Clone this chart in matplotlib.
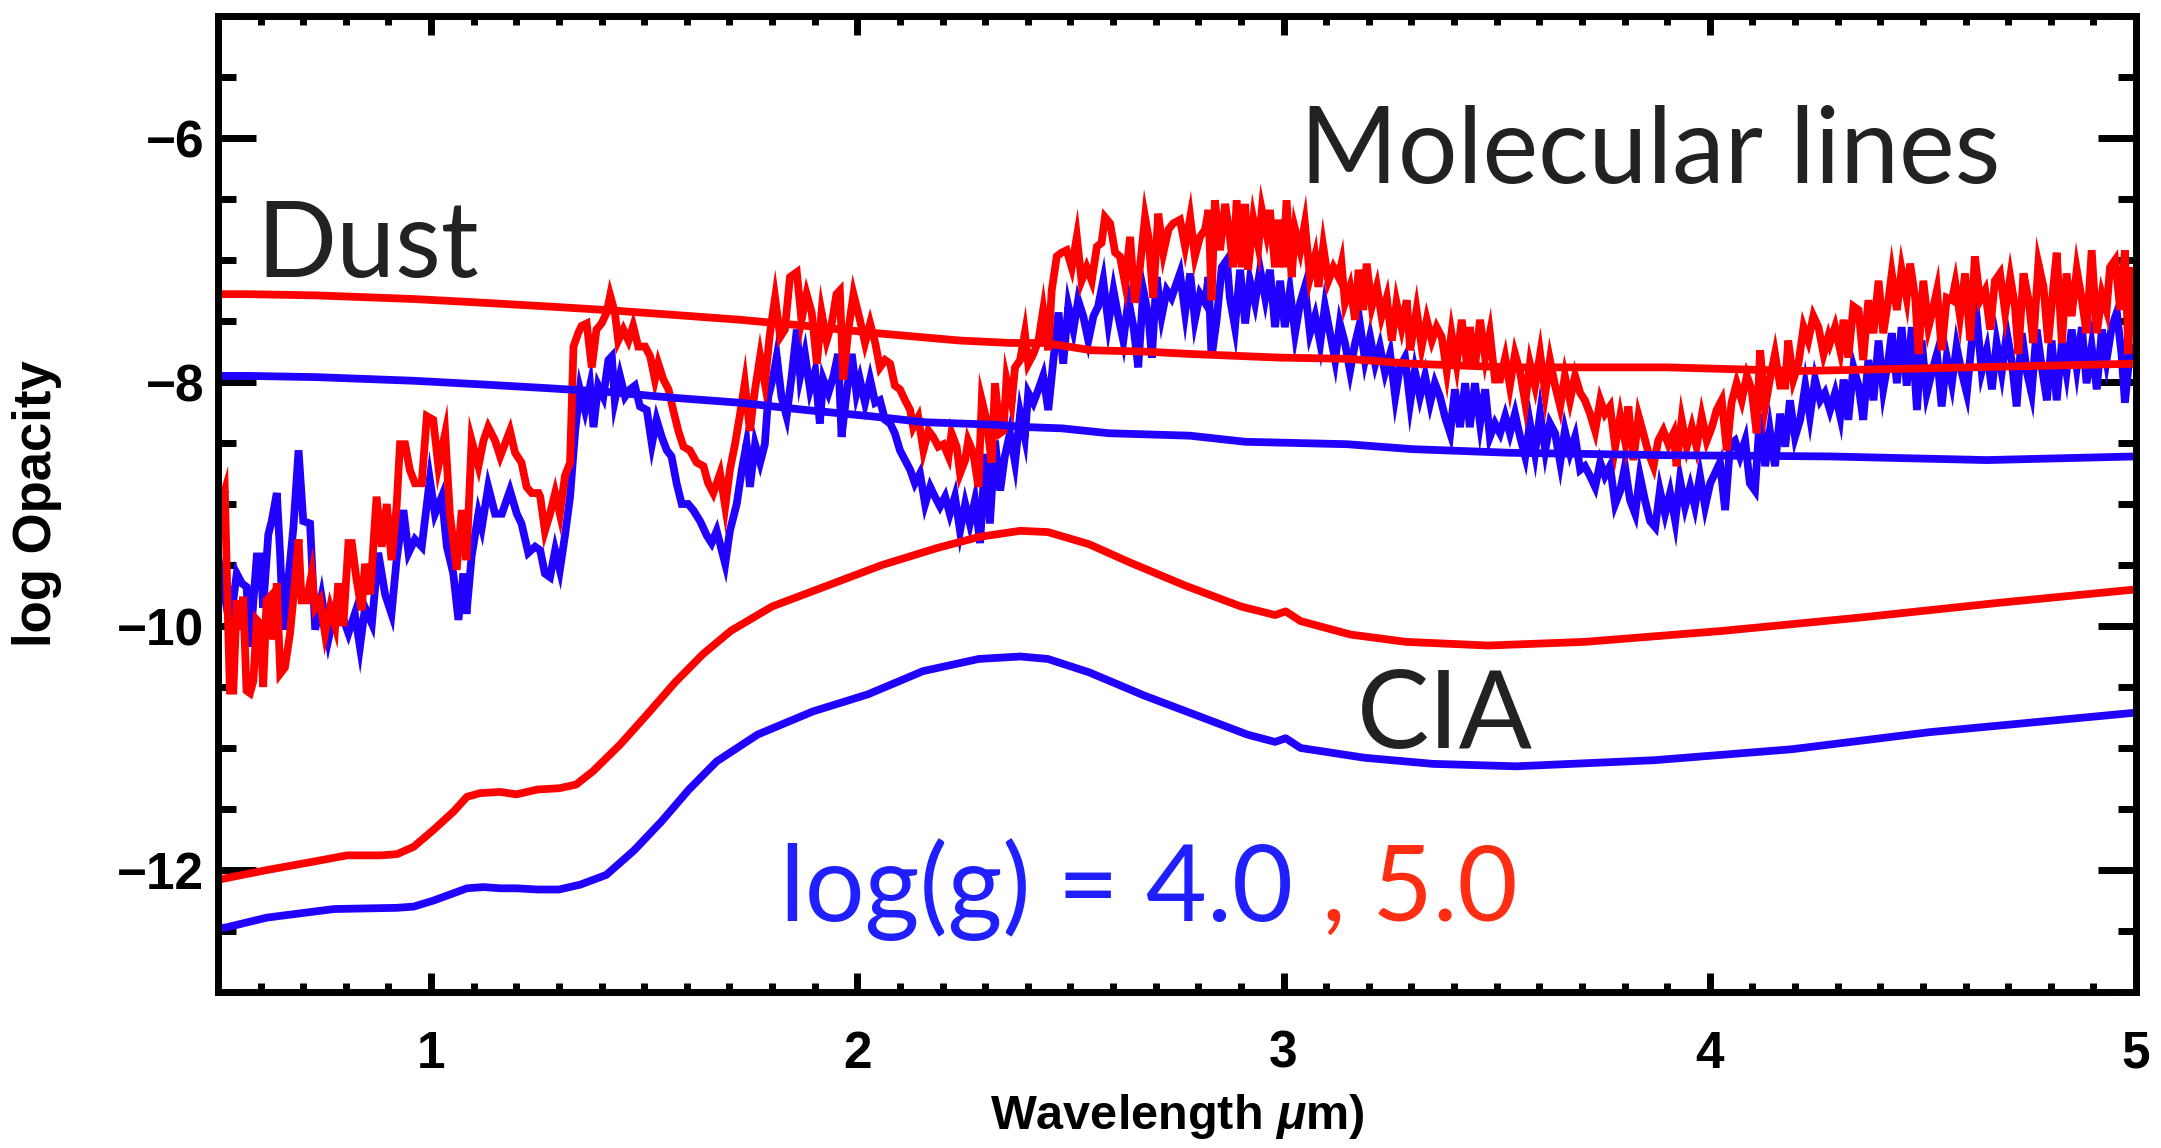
import matplotlib
matplotlib.use("Agg")
import matplotlib.pyplot as plt
import numpy as np
from matplotlib.ticker import MultipleLocator, FixedLocator

# ---------------- data ----------------
# molecular-line opacity, log(g)=5.0 (red)
mol_red = [
    (0.497, -9.51), (0.505, -9.02), (0.516, -8.89), (0.524, -10.03), (0.528, -10.53), (0.536, -10.53),
    (0.544, -9.79), (0.552, -10.03), (0.559, -9.76), (0.567, -10.53), (0.575, -10.55), (0.583, -10.45),
    (0.591, -9.95), (0.599, -9.98), (0.606, -10.50), (0.614, -9.79), (0.622, -9.76), (0.630, -10.11),
    (0.638, -9.65), (0.646, -10.39), (0.657, -10.34), (0.669, -10.06), (0.681, -9.62), (0.689, -9.29),
    (0.696, -9.79), (0.708, -9.79), (0.720, -9.57), (0.728, -9.85), (0.739, -9.79), (0.751, -10.06),
    (0.763, -9.85), (0.775, -10.00), (0.782, -9.65), (0.794, -10.00), (0.806, -9.32), (0.814, -9.32),
    (0.825, -9.62), (0.837, -9.87), (0.845, -9.49), (0.857, -9.74), (0.872, -8.94), (0.884, -9.35),
    (0.896, -9.00), (0.907, -9.46), (0.919, -9.02), (0.927, -8.51), (0.939, -8.51), (0.950, -8.72),
    (0.962, -8.83), (0.978, -8.83), (0.990, -8.28), (1.005, -8.31), (1.017, -8.69), (1.033, -8.42),
    (1.044, -9.08), (1.060, -9.54), (1.072, -9.05), (1.083, -9.46), (1.095, -8.48), (1.111, -8.69),
    (1.123, -8.48), (1.134, -8.37), (1.150, -8.48), (1.162, -8.61), (1.173, -8.51), (1.185, -8.40),
    (1.197, -8.58), (1.212, -8.66), (1.224, -8.86), (1.236, -8.91), (1.252, -8.91),
    (1.256, -8.94), (1.267, -9.22), (1.279, -9.08), (1.291, -8.91), (1.302, -9.08), (1.314, -8.77),
    (1.326, -8.66), (1.334, -7.71), (1.345, -7.60), (1.353, -7.54), (1.365, -7.52), (1.377, -7.88),
    (1.388, -7.57), (1.400, -7.52), (1.412, -7.43), (1.420, -7.29), (1.431, -7.43), (1.439, -7.66),
    (1.451, -7.57), (1.463, -7.66), (1.474, -7.54), (1.486, -7.71), (1.502, -7.71), (1.514, -7.79),
    (1.525, -7.98), (1.533, -7.85), (1.545, -7.98), (1.557, -8.06), (1.568, -8.23), (1.580, -8.40),
    (1.592, -8.53), (1.607, -8.56), (1.623, -8.66), (1.639, -8.69), (1.650, -8.83), (1.662, -8.91),
    (1.678, -8.75), (1.690, -9.02), (1.701, -8.72), (1.713, -8.51), (1.725, -8.26), (1.736, -8.01),
    (1.748, -8.40), (1.760, -8.06), (1.772, -7.79), (1.783, -8.01), (1.795, -7.60), (1.807, -7.31),
    (1.819, -7.63), (1.830, -7.57), (1.842, -7.14), (1.858, -7.10), (1.869, -7.49), (1.881, -7.28),
    (1.893, -7.43), (1.905, -7.85), (1.916, -7.43), (1.928, -7.66), (1.940, -7.52), (1.951, -7.28),
    (1.959, -7.25), (1.967, -7.98), (1.979, -7.57), (1.991, -7.28),
    (2.006, -7.49), (2.018, -7.68), (2.030, -7.52), (2.042, -7.68), (2.053, -7.88), (2.065, -7.82),
    (2.077, -7.85), (2.088, -8.03), (2.100, -8.06), (2.112, -8.15), (2.124, -8.23), (2.131, -8.37),
    (2.143, -8.29), (2.155, -8.56), (2.167, -8.40), (2.178, -8.45), (2.190, -8.53), (2.202, -8.51),
    (2.214, -8.61), (2.221, -8.42), (2.233, -8.53), (2.241, -8.75), (2.253, -8.64), (2.260, -8.48),
    (2.272, -8.58), (2.284, -8.86), (2.292, -8.15), (2.303, -8.31), (2.315, -8.66), (2.323, -8.01),
    (2.335, -8.42), (2.343, -8.40), (2.350, -7.98), (2.362, -8.17), (2.370, -7.88), (2.382, -7.82),
    (2.393, -7.60), (2.401, -7.85), (2.413, -7.77), (2.425, -7.66), (2.436, -7.41), (2.448, -7.74),
    (2.456, -7.25), (2.468, -6.97), (2.479, -6.94), (2.491, -6.92), (2.503, -7.06), (2.515, -6.81),
    (2.526, -7.17), (2.538, -7.06), (2.550, -7.17), (2.562, -6.89), (2.573, -6.86), (2.581, -6.65),
    (2.593, -6.70), (2.605, -6.94), (2.616, -6.97), (2.628, -7.19), (2.640, -6.81), (2.651, -7.35),
    (2.663, -7.06), (2.675, -6.65), (2.683, -6.81), (2.694, -7.31), (2.706, -6.62), (2.718, -6.94),
    (2.730, -6.75), (2.741, -6.70),
    (2.757, -6.67), (2.769, -6.89), (2.781, -6.65), (2.792, -6.97), (2.804, -6.81), (2.816, -6.75),
    (2.824, -6.59), (2.831, -7.33), (2.839, -6.51), (2.851, -6.92), (2.863, -6.54), (2.874, -6.81),
    (2.882, -7.06), (2.890, -6.51), (2.902, -7.06), (2.910, -6.54), (2.917, -7.08), (2.929, -6.67),
    (2.941, -6.89), (2.949, -6.59), (2.960, -6.78), (2.968, -6.59), (2.980, -7.06), (2.988, -6.67),
    (2.999, -7.06), (3.007, -6.51), (3.019, -7.14), (3.027, -6.75), (3.039, -6.92), (3.050, -6.70),
    (3.062, -7.14), (3.074, -6.97), (3.082, -7.22), (3.093, -6.89), (3.105, -7.17), (3.117, -7.06),
    (3.129, -7.14), (3.136, -7.03), (3.144, -7.35), (3.156, -7.22), (3.168, -7.49), (3.176, -7.08),
    (3.187, -7.41), (3.195, -7.03), (3.207, -7.38), (3.219, -7.22), (3.230, -7.46), (3.242, -7.31),
    (3.254, -7.66), (3.265, -7.35), (3.277, -7.55), (3.289, -7.33), (3.297, -7.74), (3.312, -7.41),
    (3.324, -7.71), (3.336, -7.49), (3.348, -7.66), (3.359, -7.55), (3.371, -7.63), (3.383, -7.91),
    (3.394, -7.60), (3.406, -7.85), (3.418, -7.49), (3.430, -7.85), (3.437, -7.55), (3.449, -7.88),
    (3.461, -7.49), (3.473, -7.80), (3.484, -7.60), (3.496, -7.98),
    (3.508, -7.98), (3.520, -7.80), (3.531, -8.03), (3.543, -7.77), (3.555, -7.92), (3.567, -8.17),
    (3.578, -7.85), (3.590, -8.03), (3.602, -7.77), (3.614, -8.09), (3.625, -7.82), (3.637, -8.03),
    (3.649, -8.20), (3.660, -7.95), (3.672, -8.15), (3.684, -7.95), (3.696, -8.09), (3.707, -8.15),
    (3.719, -8.26), (3.731, -8.40), (3.743, -8.15), (3.754, -8.26), (3.766, -8.20), (3.778, -8.53),
    (3.790, -8.28), (3.801, -8.48), (3.809, -8.20), (3.821, -8.64), (3.833, -8.28), (3.844, -8.42),
    (3.856, -8.58), (3.868, -8.69), (3.879, -8.48), (3.891, -8.40), (3.903, -8.51), (3.915, -8.42),
    (3.922, -8.69), (3.934, -8.31), (3.946, -8.53), (3.958, -8.37), (3.969, -8.53), (3.981, -8.28),
    (3.993, -8.48), (4.005, -8.37), (4.016, -8.23), (4.028, -8.15), (4.040, -8.56), (4.051, -8.17),
    (4.063, -8.01), (4.075, -8.15), (4.087, -7.95), (4.098, -8.06), (4.110, -8.42), (4.118, -7.74),
    (4.130, -8.20), (4.141, -7.98), (4.153, -7.77), (4.165, -8.03), (4.177, -8.03), (4.184, -7.66),
    (4.196, -7.98), (4.208, -7.85), (4.220, -7.55), (4.231, -7.66), (4.243, -7.46), (4.255, -7.55),
    (4.267, -7.77), (4.278, -7.63),
    (4.282, -7.68), (4.294, -7.55), (4.306, -7.74), (4.314, -7.49), (4.325, -7.80), (4.337, -7.38),
    (4.349, -7.41), (4.360, -7.82), (4.372, -7.33), (4.384, -7.60), (4.396, -7.17), (4.407, -7.60),
    (4.419, -7.33), (4.427, -7.11), (4.439, -7.41), (4.450, -7.08), (4.462, -7.31), (4.470, -7.03),
    (4.482, -7.31), (4.490, -7.77), (4.501, -7.17), (4.513, -7.55), (4.525, -7.38), (4.533, -7.25),
    (4.544, -7.74), (4.556, -7.31), (4.568, -7.33), (4.576, -7.19), (4.587, -7.46), (4.599, -7.11),
    (4.611, -7.66), (4.622, -6.97), (4.634, -7.33), (4.646, -7.25), (4.658, -7.57), (4.669, -7.17),
    (4.681, -7.11), (4.693, -7.43), (4.705, -7.14), (4.716, -7.38), (4.724, -7.77), (4.736, -7.11),
    (4.748, -7.33), (4.759, -7.68), (4.771, -7.03), (4.783, -7.22), (4.794, -7.68), (4.806, -7.22),
    (4.814, -6.94), (4.826, -7.68), (4.837, -7.11), (4.849, -7.46), (4.861, -7.08), (4.873, -7.33),
    (4.884, -7.60), (4.896, -6.92), (4.908, -7.60), (4.920, -7.28), (4.931, -7.41), (4.939, -7.06),
    (4.951, -7.00), (4.963, -7.41), (4.974, -6.92), (4.982, -7.77), (4.990, -7.06), (4.998, -7.25),
]

# molecular-line opacity, log(g)=4.0 (blue)
mol_blue = [
    (0.497, -9.35), (0.505, -9.54), (0.528, -10.00), (0.544, -9.57), (0.556, -9.65), (0.567, -9.68),
    (0.575, -10.17), (0.591, -9.43), (0.599, -9.43), (0.606, -9.85), (0.618, -9.25), (0.626, -9.14),
    (0.638, -8.91), (0.646, -9.43), (0.653, -10.03), (0.665, -9.62), (0.677, -9.19), (0.689, -8.56),
    (0.700, -9.14), (0.716, -9.16), (0.728, -10.03), (0.743, -9.76), (0.759, -10.11), (0.775, -9.85),
    (0.790, -9.90), (0.806, -10.06), (0.821, -9.90), (0.833, -10.17), (0.845, -9.85), (0.861, -9.98),
    (0.876, -9.40), (0.892, -9.74), (0.907, -9.90), (0.919, -9.46), (0.935, -9.05), (0.947, -9.40),
    (0.962, -9.29), (0.978, -9.35), (0.997, -8.80), (1.009, -9.08), (1.025, -8.94), (1.037, -9.35),
    (1.052, -9.57), (1.064, -9.95), (1.076, -9.57), (1.083, -9.90), (1.095, -9.43), (1.111, -9.08),
    (1.119, -9.19), (1.134, -8.86), (1.150, -9.08), (1.166, -9.08), (1.185, -8.89), (1.201, -9.08),
    (1.212, -9.16), (1.228, -9.40), (1.244, -9.35),
    (1.256, -9.38), (1.267, -9.57), (1.279, -9.60), (1.291, -9.38), (1.302, -9.54), (1.314, -9.26),
    (1.326, -8.94), (1.338, -8.40), (1.349, -8.06), (1.361, -8.23), (1.373, -8.03), (1.381, -8.37),
    (1.392, -8.03), (1.404, -8.12), (1.416, -7.82), (1.424, -7.79), (1.431, -8.15), (1.443, -7.95),
    (1.455, -8.12), (1.467, -8.06), (1.478, -8.03), (1.490, -8.20), (1.506, -8.23), (1.518, -8.51),
    (1.529, -8.31), (1.541, -8.45), (1.553, -8.56), (1.564, -8.61), (1.576, -8.83), (1.588, -9.00),
    (1.603, -9.00), (1.615, -9.05), (1.631, -9.14), (1.647, -9.26), (1.658, -9.32), (1.670, -9.22),
    (1.682, -9.38), (1.690, -9.49), (1.701, -9.22), (1.717, -9.00), (1.729, -8.72), (1.740, -8.51),
    (1.748, -8.86), (1.760, -8.51), (1.772, -8.66), (1.783, -8.51), (1.791, -8.12), (1.803, -7.95),
    (1.811, -7.79), (1.822, -8.12), (1.834, -8.28), (1.846, -7.95), (1.858, -7.57), (1.866, -7.95),
    (1.877, -7.77), (1.889, -8.06), (1.901, -7.91), (1.912, -8.34), (1.920, -7.98), (1.932, -8.09),
    (1.944, -7.95), (1.955, -7.77), (1.963, -8.45), (1.975, -8.09), (1.987, -7.77), (1.998, -8.09),
    (2.006, -7.98), (2.018, -8.17), (2.030, -7.98), (2.042, -8.17), (2.053, -8.15), (2.065, -8.31),
    (2.077, -8.34), (2.088, -8.42), (2.100, -8.56), (2.112, -8.64), (2.124, -8.72), (2.135, -8.83),
    (2.147, -8.75), (2.159, -9.00), (2.171, -8.86), (2.182, -8.94), (2.194, -9.02), (2.206, -8.94),
    (2.217, -9.08), (2.229, -8.94), (2.241, -9.22), (2.253, -9.00), (2.264, -9.16), (2.276, -8.97),
    (2.288, -9.32), (2.300, -8.59), (2.311, -9.16), (2.323, -8.48), (2.335, -8.89), (2.346, -8.61),
    (2.358, -8.42), (2.370, -8.66), (2.382, -8.26), (2.393, -8.45), (2.401, -8.09), (2.413, -8.17),
    (2.425, -8.06), (2.436, -7.95), (2.448, -8.23), (2.460, -7.82), (2.472, -7.43), (2.483, -7.85),
    (2.495, -7.38), (2.507, -7.57), (2.518, -7.33), (2.530, -7.46), (2.542, -7.66), (2.554, -7.46),
    (2.565, -7.38), (2.577, -7.17), (2.589, -7.52), (2.601, -7.25), (2.612, -7.46), (2.624, -7.66),
    (2.636, -7.33), (2.648, -7.55), (2.659, -7.88), (2.671, -7.25), (2.683, -7.46), (2.691, -7.80),
    (2.702, -7.14), (2.714, -7.46), (2.726, -7.25), (2.737, -7.31),
    (2.757, -7.11), (2.769, -7.43), (2.781, -7.11), (2.792, -7.49), (2.804, -7.28), (2.816, -7.35),
    (2.824, -7.14), (2.831, -7.80), (2.843, -7.49), (2.855, -7.06), (2.867, -7.00), (2.874, -7.31),
    (2.886, -7.55), (2.898, -7.08), (2.910, -7.52), (2.921, -7.17), (2.933, -7.35), (2.945, -7.08),
    (2.957, -7.31), (2.968, -7.08), (2.980, -7.55), (2.992, -7.17), (3.003, -7.55), (3.015, -7.25),
    (3.027, -7.60), (3.039, -7.35), (3.050, -7.22), (3.062, -7.60), (3.074, -7.46), (3.086, -7.68),
    (3.097, -7.38), (3.109, -7.60), (3.121, -7.82), (3.132, -7.52), (3.144, -7.68), (3.156, -7.91),
    (3.168, -7.68), (3.179, -7.52), (3.191, -7.82), (3.203, -7.63), (3.215, -7.85), (3.226, -7.71),
    (3.238, -7.92), (3.250, -7.77), (3.262, -8.12), (3.273, -7.88), (3.285, -7.80), (3.297, -8.17),
    (3.308, -7.91), (3.320, -8.12), (3.332, -7.95), (3.344, -8.17), (3.355, -8.01), (3.367, -8.12),
    (3.379, -8.29), (3.391, -8.42), (3.402, -8.06), (3.414, -8.37), (3.426, -8.01), (3.437, -8.37),
    (3.449, -8.01), (3.461, -8.34), (3.473, -8.06), (3.484, -8.45), (3.496, -8.34),
    (3.508, -8.42), (3.520, -8.28), (3.531, -8.42), (3.543, -8.26), (3.555, -8.45), (3.567, -8.61),
    (3.578, -8.34), (3.590, -8.58), (3.602, -8.26), (3.614, -8.56), (3.625, -8.34), (3.637, -8.42),
    (3.649, -8.66), (3.660, -8.40), (3.672, -8.58), (3.684, -8.45), (3.696, -8.72), (3.707, -8.69),
    (3.719, -8.77), (3.731, -8.86), (3.743, -8.66), (3.754, -8.77), (3.766, -8.69), (3.778, -9.00),
    (3.790, -8.89), (3.801, -8.69), (3.813, -8.97), (3.825, -9.08), (3.836, -8.77), (3.848, -8.97),
    (3.860, -9.14), (3.872, -9.19), (3.883, -8.89), (3.895, -9.08), (3.907, -8.91), (3.919, -9.14),
    (3.930, -8.80), (3.942, -9.02), (3.954, -8.86), (3.965, -9.02), (3.977, -8.77), (3.989, -9.02),
    (4.001, -8.83), (4.012, -8.75), (4.024, -8.66), (4.036, -9.05), (4.048, -8.51), (4.059, -8.48),
    (4.071, -8.61), (4.083, -8.48), (4.094, -8.83), (4.106, -8.89), (4.118, -8.26), (4.130, -8.69),
    (4.141, -8.40), (4.153, -8.69), (4.165, -8.26), (4.177, -8.53), (4.188, -8.15), (4.200, -8.45),
    (4.212, -8.31), (4.224, -8.03), (4.235, -8.28), (4.247, -7.98), (4.259, -8.15), (4.270, -8.09),
    (4.282, -8.23), (4.294, -8.09), (4.306, -8.28), (4.314, -7.98), (4.325, -8.31), (4.337, -7.88),
    (4.349, -8.03), (4.360, -8.31), (4.372, -7.82), (4.384, -8.15), (4.396, -7.66), (4.407, -8.06),
    (4.419, -7.82), (4.427, -7.60), (4.439, -8.01), (4.450, -7.55), (4.462, -8.03), (4.474, -7.55),
    (4.486, -8.23), (4.497, -7.66), (4.509, -8.09), (4.521, -7.92), (4.533, -7.77), (4.544, -8.20),
    (4.556, -7.80), (4.568, -8.01), (4.579, -7.71), (4.591, -7.92), (4.603, -8.09), (4.615, -7.66),
    (4.626, -7.46), (4.638, -7.91), (4.650, -7.74), (4.662, -8.06), (4.673, -7.68), (4.685, -7.92),
    (4.697, -7.60), (4.708, -7.82), (4.720, -8.20), (4.732, -7.60), (4.744, -7.92), (4.755, -8.09),
    (4.767, -7.57), (4.779, -7.88), (4.791, -8.15), (4.802, -7.66), (4.814, -8.15), (4.826, -7.68),
    (4.837, -7.92), (4.849, -7.57), (4.861, -7.88), (4.873, -7.55), (4.884, -8.01), (4.896, -7.71),
    (4.908, -8.06), (4.920, -7.57), (4.931, -7.82), (4.943, -7.55), (4.955, -7.43), (4.966, -7.77),
    (4.974, -8.17), (4.986, -7.74), (4.998, -7.71),
]

# dust opacity
wl_dust_red = [0.50, 0.57, 0.73, 0.96, 1.12, 1.27, 1.41, 1.57, 1.725, 1.88, 2.045, 2.24, 2.36,
               2.44, 2.55, 2.67, 2.78, 2.99, 3.15, 3.30, 3.53, 3.66, 3.90, 4.21, 4.61, 5.0]
dust_red = [-7.28, -7.28, -7.29, -7.32, -7.35, -7.38, -7.41, -7.45, -7.49, -7.54, -7.60, -7.66, -7.68,
            -7.68, -7.74, -7.75, -7.77, -7.80, -7.81, -7.85, -7.88, -7.88, -7.88, -7.91, -7.88, -7.85]
wl_dust_blue = [0.50, 0.57, 0.73, 0.96, 1.12, 1.27, 1.41, 1.57, 1.725, 1.88, 2.03, 2.16, 2.32,
                2.40, 2.48, 2.59, 2.78, 2.91, 3.15, 3.30, 3.53, 3.90, 4.28, 4.65, 5.0]
dust_blue = [-7.95, -7.95, -7.96, -7.99, -8.02, -8.05, -8.08, -8.13, -8.17, -8.23, -8.28, -8.33, -8.35,
             -8.37, -8.38, -8.42, -8.44, -8.49, -8.51, -8.55, -8.58, -8.60, -8.61, -8.64, -8.61]

# collision-induced absorption
wl_cia_red = [0.50, 0.615, 0.726, 0.772, 0.803, 0.881, 0.920, 0.959, 1.006, 1.053, 1.084, 1.115, 1.162,
              1.20, 1.25, 1.30, 1.34, 1.380, 1.444, 1.508, 1.573, 1.638, 1.703, 1.80, 1.929, 2.058,
              2.188, 2.285, 2.382, 2.447, 2.544, 2.64, 2.77, 2.90, 2.98, 3.005, 3.04, 3.157, 3.287,
              3.48, 3.707, 4.03, 4.355, 4.678, 5.0]
cia_red = [-12.08, -12.00, -11.93, -11.90, -11.88, -11.88, -11.87, -11.81, -11.67, -11.52, -11.40, -11.37,
           -11.36, -11.38, -11.34, -11.33, -11.30, -11.19, -10.97, -10.72, -10.46, -10.23, -10.04, -9.84,
           -9.67, -9.50, -9.36, -9.27, -9.22, -9.23, -9.33, -9.48, -9.67, -9.84, -9.91, -9.88, -9.96,
           -10.07, -10.13, -10.16, -10.13, -10.04, -9.93, -9.81, -9.70]
wl_cia_blue = [0.50, 0.52, 0.615, 0.772, 0.920, 0.959, 1.006, 1.045, 1.084, 1.123, 1.162, 1.20, 1.25,
               1.30, 1.35, 1.411, 1.476, 1.541, 1.605, 1.67, 1.766, 1.896, 2.025, 2.154, 2.285, 2.382,
               2.447, 2.544, 2.673, 2.802, 2.915, 2.98, 3.005, 3.04, 3.19, 3.35, 3.546, 3.87, 4.193,
               4.516, 5.0]
cia_blue = [-12.48, -12.47, -12.39, -12.32, -12.31, -12.30, -12.25, -12.20, -12.15, -12.14, -12.15, -12.15,
            -12.16, -12.16, -12.12, -12.04, -11.84, -11.60, -11.34, -11.11, -10.89, -10.70, -10.56, -10.37,
            -10.27, -10.25, -10.27, -10.38, -10.57, -10.74, -10.89, -10.95, -10.92, -11.00, -11.08,
            -11.13, -11.15, -11.10, -11.01, -10.87, -10.71]

x_ticks = [1, 2, 3, 4, 5]
y_ticks = [-12, -10, -8, -6]

RED = "#ff0000"
BLUE = "#2200ff"

# ---------------- figure ----------------
plt.rcParams["mathtext.fontset"] = "custom"
plt.rcParams["mathtext.it"] = "Liberation Sans:italic:bold"
plt.rcParams["mathtext.rm"] = "Liberation Sans:bold"

W, H = 2161, 1148
fig = plt.figure(figsize=(W / 100, H / 100), dpi=100)
ax = fig.add_axes([218 / W, (H - 992) / H, 1918 / W, 976 / H])

lw = 5.6
mb = np.array(mol_blue)
mr = np.array(mol_red)
ax.plot(mb[:, 0], mb[:, 1], color=BLUE, lw=lw, solid_joinstyle="miter")
ax.plot(mr[:, 0], mr[:, 1], color=RED, lw=lw, solid_joinstyle="miter")
ax.plot(wl_dust_blue, dust_blue, color=BLUE, lw=lw)
ax.plot(wl_dust_red, dust_red, color=RED, lw=lw)
ax.plot(wl_cia_blue, cia_blue, color=BLUE, lw=lw)
ax.plot(wl_cia_red, cia_red, color=RED, lw=lw)

ax.set_xlim(0.5, 5.0)
ax.set_ylim(-13, -5)
ax.xaxis.set_major_locator(FixedLocator(x_ticks))
ax.xaxis.set_minor_locator(MultipleLocator(0.1))
ax.yaxis.set_major_locator(FixedLocator(y_ticks))
ax.yaxis.set_minor_locator(MultipleLocator(0.5))
ax.set_xticklabels([str(t) for t in x_ticks])
ax.set_yticklabels(["\u2212" + str(-t) for t in y_ticks])

for s in ax.spines.values():
    s.set_linewidth(5)
ax.tick_params(which="both", direction="in", top=True, right=True, width=5, color="black")
ax.tick_params(axis="x", which="major", length=14, pad=27)
ax.tick_params(axis="x", which="minor", length=6.5)
ax.tick_params(axis="y", which="major", length=27.5, pad=10)
ax.tick_params(axis="y", which="minor", length=13)

for lab in ax.get_xticklabels() + ax.get_yticklabels():
    lab.set_fontfamily("Liberation Sans")
    lab.set_fontweight("bold")
    lab.set_fontsize(37)

ax.set_xlabel("Wavelength $\\mu$m)", fontfamily="Liberation Sans", fontweight="bold", fontsize=35)
ax.xaxis.set_label_coords(0.5, -(1092 - 992) / 976)
ax.set_ylabel("log Opacity", fontfamily="Liberation Sans", fontweight="bold", fontsize=38)
ax.yaxis.set_label_coords(-(218 - 62) / 1918, 0.5)

def axfrac(px, py):
    return ((px - 218) / 1918, (992 - py) / 976)

ann = dict(family="Lato", color="#222222", va="baseline", ha="left", transform=ax.transAxes)
ax.text(*axfrac(256, 277), "Dust", fontsize=76, **ann)
ax.text(*axfrac(1300, 183), "Molecular lines", fontsize=76, **ann)
ax.text(*axfrac(1357, 748), "CIA", fontsize=78, **ann)
ax.text(*axfrac(780, 921), "log(g) = 4.0", fontsize=76, family="Lato", color="#1f1fff",
        va="baseline", ha="left", transform=ax.transAxes)
ax.text(*axfrac(1322, 921), ", 5.0", fontsize=75, family="Lato", color="#ff2e12",
        va="baseline", ha="left", transform=ax.transAxes)

fig.savefig("out.png", dpi=100)
